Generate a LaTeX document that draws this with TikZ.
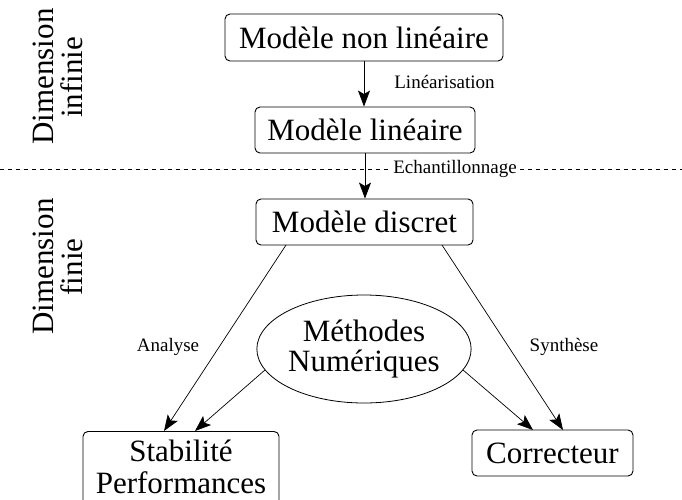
\documentclass[tikz,border=0pt]{standalone}
\usepackage{fontspec}
\setmainfont{Liberation Serif}
\usetikzlibrary{arrows.meta,shapes.geometric}
\begin{document}
\begin{tikzpicture}[x=1pt,y=-1pt,
  box/.style={draw, rounded corners=5pt, line width=0.9pt, inner sep=0pt,
    font=\fontsize{31}{32}\selectfont, align=center},
  lab/.style={inner sep=2pt, font=\fontsize{19}{21}\selectfont},
  conn/.style={line width=0.7pt, -{Stealth[length=16pt,width=12pt,inset=3.5pt]}},
  sidetext/.style={rotate=90, anchor=base, inner sep=0pt, font=\fontsize{31}{32}\selectfont},
  sep/.style={line width=0.6pt, dash pattern=on 4pt off 4pt}]
\useasboundingbox (0,0) rectangle (682,499);

% separator
\coordinate (dl) at (0,169);
\coordinate (dr) at (682,169);
\draw[sep] (dl) -- (dr);

% side texts
\node[sidetext] (d1) at (53,76.5) {Dimension};
\node[sidetext] (d2) at (82,77.5) {infinie};
\node[sidetext] (d3) at (53,266.5) {Dimension};
\node[sidetext] (d4) at (82,267) {finie};

% boxes
\node[box, minimum width=278pt, minimum height=47pt] (b1) at (364,37.5) {Modèle non linéaire};
\node[box, minimum width=220pt, minimum height=46pt] (b2) at (365,130) {Modèle linéaire};
\node[box, minimum width=217pt, minimum height=46pt] (b3) at (364.5,222) {Modèle discret};
\node[box, anchor=north, minimum width=196pt, inner ysep=8pt, text depth=6pt] (b4) at (181,431) {Stabilité\\Performances};
\node[box, minimum width=161pt, minimum height=46pt] (b5) at (552.5,453) {Correcteur};
\node[draw, ellipse, line width=0.8pt, minimum width=210pt, minimum height=108pt, inner sep=0pt,
  align=center, font=\fontsize{31}{30}\selectfont] (ell) at (364,349) {Méthodes\\Numériques};

% connector end points
\coordinate (a3l) at (286,245);
\coordinate (a3r) at (442,245);
\coordinate (t4l) at (164,431);
\coordinate (t4r) at (195,431);
\coordinate (t5l) at (533,430);
\coordinate (t5r) at (563,430);

% connectors
\draw[conn] (b1.south) -- (b1.south |- b2.north);
\draw[conn] (b2.south) -- (b2.south |- b3.north);
\draw[conn] (a3l) -- (t4l);
\draw[conn] (a3r) -- (t5r);
\draw[conn] (ell.192) -- (t4r);
\draw[conn] (ell.348) -- (t5l);

% labels
\node[lab] (lin) at (444.5,82) {Linéarisation};
\node[lab, fill=white] (ech) at (455,169) {Echantillonnage};
\node[lab] (ana) at (168,347) {Analyse};
\node[lab] (syn) at (564,347) {Synthèse};
\end{tikzpicture}
\end{document}
